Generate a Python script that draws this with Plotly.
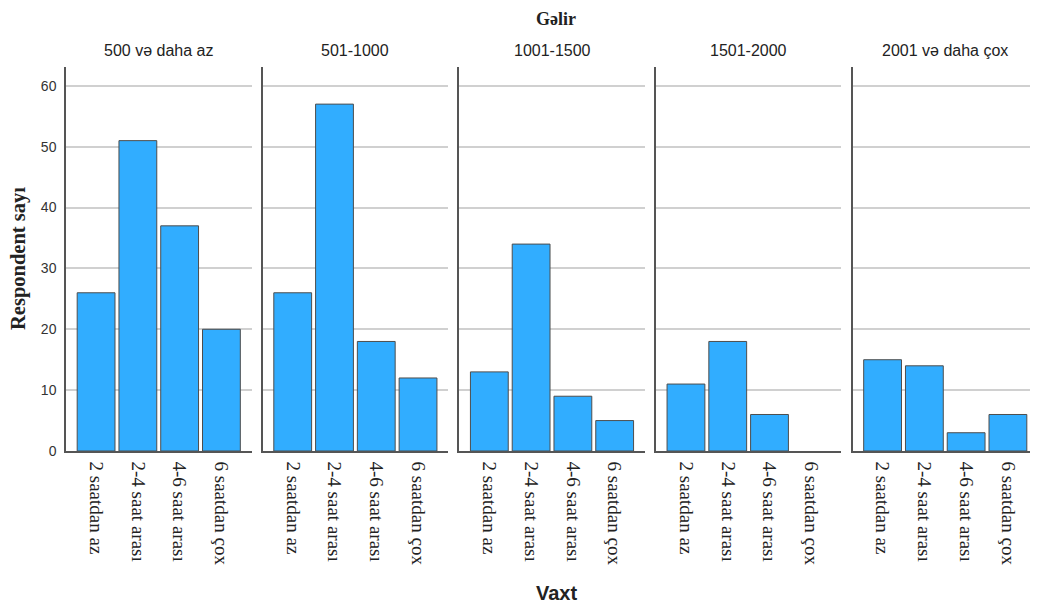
import plotly.graph_objects as go

panels = ["500 və daha az", "501-1000", "1001-1500", "1501-2000", "2001 və daha çox"]
categories = ["2 saatdan az", "2-4 saat arası", "4-6 saat arası", "6 saatdan çox"]
values_500 = [26, 51, 37, 20]
values_1000 = [26, 57, 18, 12]
values_1500 = [13, 34, 9, 5]
values_2000 = [11, 18, 6, 0]
values_2001 = [15, 14, 3, 6]
series = [values_500, values_1000, values_1500, values_2000, values_2001]
y_ticks = [0, 10, 20, 30, 40, 50, 60]

# page body has an 8px margin; size the figure to fit the window
W, H = 1030, 597
L, R, T, B = 58, 0, 59, 154
plot_w = W - L - R
pw = 185.5
gap = (plot_w - 5 * pw) / 4

fig = go.Figure()
layout = {}
for i, (name, vals) in enumerate(zip(panels, series)):
    idx = "" if i == 0 else str(i + 1)
    fig.add_trace(go.Bar(
        x=categories, y=vals,
        xaxis="x" + idx, yaxis="y" + idx,
        marker=dict(color="#31adff",
                    line=dict(color="#4d4d4d", width=[1 if v > 0 else 0 for v in vals])),
        showlegend=False, hoverinfo="x+y",
    ))
    d0 = (i * (pw + gap)) / plot_w
    d1 = (i * (pw + gap) + pw) / plot_w
    layout["xaxis" + idx] = dict(
        domain=[d0, min(d1, 1)], anchor="y" + idx,
        type="category", range=[-0.72, 3.72],
        showline=True, linecolor="#555555", linewidth=1.5,
        showgrid=False, ticks="", tickangle=90,
        tickfont=dict(family="Liberation Serif", size=19, color="#222222"),
        ticklabelstandoff=5, fixedrange=True,
    )
    layout["yaxis" + idx] = dict(
        anchor="x" + idx, range=[0, 63.1],
        tickvals=y_ticks, showticklabels=(i == 0),
        showline=True, linecolor="#555555", linewidth=1.5,
        showgrid=True, gridcolor="#d0d0d0", gridwidth=1.5,
        zeroline=False, ticks="",
        tickfont=dict(family="Liberation Sans", size=14, color="#333333"),
        ticklabelstandoff=5, fixedrange=True,
    )

cx_all = (5 * pw + 4 * gap + 8) / 2 / plot_w
annotations = []
for i, name in enumerate(panels):
    cx = (i * (pw + gap) + pw / 2) / plot_w
    annotations.append(dict(
        text=name, xref="paper", yref="paper", x=cx, y=1,
        xanchor="center", yanchor="middle", yshift=17, showarrow=False,
        font=dict(family="Liberation Sans", size=16, color="#222222"),
    ))
annotations.append(dict(
    text="<b>Gəlir</b>", xref="paper", yref="paper", x=cx_all, y=1,
    xanchor="center", yanchor="middle", yshift=48, showarrow=False,
    font=dict(family="Liberation Serif", size=18, color="#222222"),
))
annotations.append(dict(
    text="<b>Vaxt</b>", xref="paper", yref="paper", x=cx_all, y=0,
    xanchor="center", yanchor="middle", yshift=-142, showarrow=False,
    font=dict(family="Liberation Sans", size=20, color="#222222"),
))
annotations.append(dict(
    text="<b>Respondent sayı</b>", xref="paper", yref="paper", x=0, y=0.5,
    xanchor="center", yanchor="middle", xshift=-48, textangle=-90, showarrow=False,
    font=dict(family="Liberation Serif", size=20.5, color="#222222"),
))

fig.update_layout(
    width=W, height=H,
    margin=dict(l=L, r=R, t=T, b=B),
    paper_bgcolor="white", plot_bgcolor="white",
    bargap=0.095,
    annotations=annotations,
    **layout,
)
fig.write_html("out.html")
